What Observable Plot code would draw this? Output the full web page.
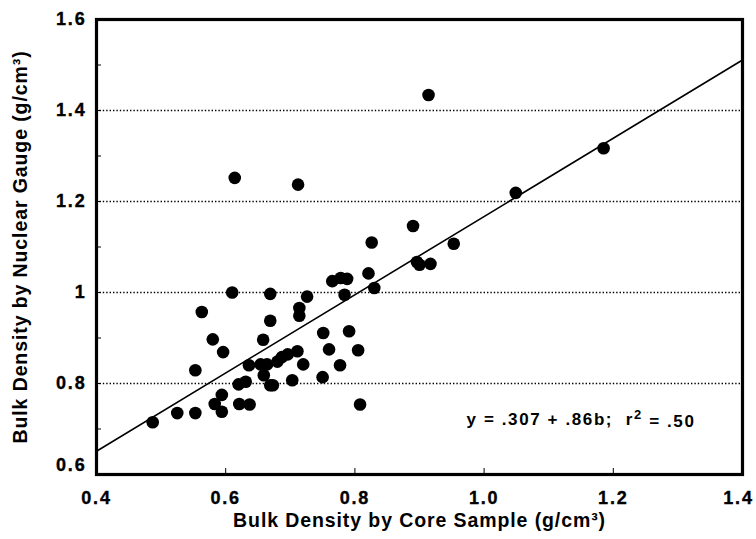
<!DOCTYPE html>
<html>
<head>
<meta charset="utf-8">
<script src="https://cdn.jsdelivr.net/npm/d3@7"></script>
<script src="https://cdn.jsdelivr.net/npm/@observablehq/plot@0.6"></script>
<style>
  html, body { margin: 0; padding: 0; background: #fff; }
  #chart svg { font-family: "Liberation Sans", Arial, Helvetica, sans-serif; }
  #chart svg g[aria-label$="tick label"] text { letter-spacing: 1.8px; stroke: #000; stroke-width: 0.35px; }
</style>
</head>
<body>
<div id="chart"></div>
<script>
// Core sample bulk density (x) and nuclear gauge bulk density (y), g/cm³
const coreDensity = [
  0.487, 0.525, 0.553, 0.553, 0.563, 0.580, 0.596, 0.583, 0.594, 0.594,
  0.610, 0.620, 0.631, 0.621, 0.637, 0.636, 0.658, 0.654, 0.664, 0.659,
  0.669, 0.673, 0.669, 0.669, 0.680, 0.687, 0.696, 0.711, 0.703, 0.720,
  0.714, 0.714, 0.726, 0.751, 0.760, 0.750, 0.777, 0.791, 0.805, 0.808,
  0.765, 0.778, 0.788, 0.784, 0.821, 0.830, 0.712, 0.890, 0.826, 0.953,
  0.896, 0.900, 0.917, 1.049, 1.185, 0.914, 0.614
];
const gaugeDensity = [
  0.715, 0.735, 0.735, 0.829, 0.957, 0.897, 0.869, 0.755, 0.775, 0.738,
  1.000, 0.798, 0.804, 0.755, 0.754, 0.840, 0.896, 0.842, 0.842, 0.818,
  0.796, 0.796, 0.938, 0.997, 0.848, 0.858, 0.864, 0.871, 0.807, 0.842,
  0.966, 0.949, 0.991, 0.911, 0.875, 0.814, 0.840, 0.915, 0.873, 0.754,
  1.025, 1.032, 1.030, 0.995, 1.042, 1.010, 1.237, 1.146, 1.110, 1.107,
  1.067, 1.061, 1.063, 1.219, 1.317, 1.434, 1.252
];

// Regression: y = .307 + .86b
const intercept = 0.307;
const slope = 0.86;
const fitX = [0.4, 1.4];

const xTicks = [0.4, 0.6, 0.8, 1.0, 1.2];
const xLastTick = [1.4];
const yTicks = [0.8, 1.0, 1.2, 1.4, 1.6];
const yBottomTick = [0.6];
const gridY = [0.8, 1.0, 1.2, 1.4];
const minorY = [0.7, 0.9, 1.1, 1.3, 1.5];
const innerX = [0.6, 0.8, 1.0, 1.2];

const xLabel = "Bulk Density by Core Sample (g/cm³)";
const yLabel = "Bulk Density by Nuclear Gauge (g/cm³)";
const eqMain = "y = .307 + .86b;  r";
const eqSup = "2";
const eqTail = " = .50";

const points = coreDensity.map((b, i) => ({b, g: gaugeDensity[i]}));
const fit = fitX.map(b => ({b, g: intercept + slope * b}));
const xFmt = d => d.toFixed(1);
const yFmt = d => d === 1 ? "1" : d.toFixed(1);

const chart = Plot.plot({
  width: 756,
  height: 539,
  marginLeft: 96,
  marginRight: 14,
  marginTop: 19,
  marginBottom: 65,
  style: {fontFamily: "'Liberation Sans', Arial, Helvetica, sans-serif", background: "#fff", color: "#000"},
  x: {domain: [0.4, 1.4]},
  y: {domain: [0.6, 1.6]},
  marks: [
    Plot.ruleY(gridY, {stroke: "#000", strokeWidth: 1.3, strokeDasharray: "1.4,2"}),
    Plot.axisX(xTicks, {tickSize: 0, tickPadding: 17, tickFormat: xFmt, fontSize: 18, fontWeight: "bold", label: null}),
    Plot.axisX(xLastTick, {tickSize: 0, tickPadding: 17, tickFormat: xFmt, fontSize: 18, fontWeight: "bold", label: null, dx: -4}),
    Plot.axisY(yTicks, {tickSize: 0, tickPadding: 10, tickFormat: yFmt, fontSize: 18, fontWeight: "bold", label: null}),
    Plot.axisY(yBottomTick, {tickSize: 0, tickPadding: 10, tickFormat: yFmt, fontSize: 18, fontWeight: "bold", label: null, dy: -9}),
    Plot.axisY(minorY, {tickSize: -5, text: null, label: null, strokeWidth: 1}),
    Plot.axisY(gridY, {tickSize: -5, text: null, label: null, strokeWidth: 1}),
    Plot.axisX(innerX, {tickSize: -6, text: null, label: null, strokeWidth: 1}),
    Plot.line(fit, {x: "b", y: "g", stroke: "#000", strokeWidth: 1.6}),
    Plot.dot(points, {x: "b", y: "g", r: 6.3, fill: "#000", stroke: "none"}),
    Plot.text([eqMain], {x: 1.15, y: 0.72, text: d => d, fontSize: 17, fontWeight: "bold", textAnchor: "middle"}),
    Plot.text([xLabel], {frameAnchor: "bottom", dy: 52, text: d => d, fontSize: 19.5, fontWeight: "bold", textAnchor: "middle"}),
    Plot.text([yLabel], {frameAnchor: "left", dx: -76, rotate: -90, text: d => d, fontSize: 19.5, fontWeight: "bold", textAnchor: "middle"}),
    Plot.frame({stroke: "#000", strokeWidth: 3.2})
  ]
});

// Styling touches: letter spacing on titles, superscript in the equation
d3.select(chart).selectAll("text").each(function() {
  const t = d3.select(this);
  const s = t.text();
  if (s === xLabel || s === yLabel) t.style("letter-spacing", "0.9px");
  if (s === eqMain) {
    t.text(null).style("letter-spacing", "1.6px");
    t.append("tspan").text(eqMain);
    t.append("tspan").attr("dy", "-0.45em").attr("font-size", 13).text(eqSup);
    t.append("tspan").attr("dy", "0.45em").text(eqTail);
  }
});
document.getElementById("chart").appendChild(chart);
</script>
</body>
</html>
